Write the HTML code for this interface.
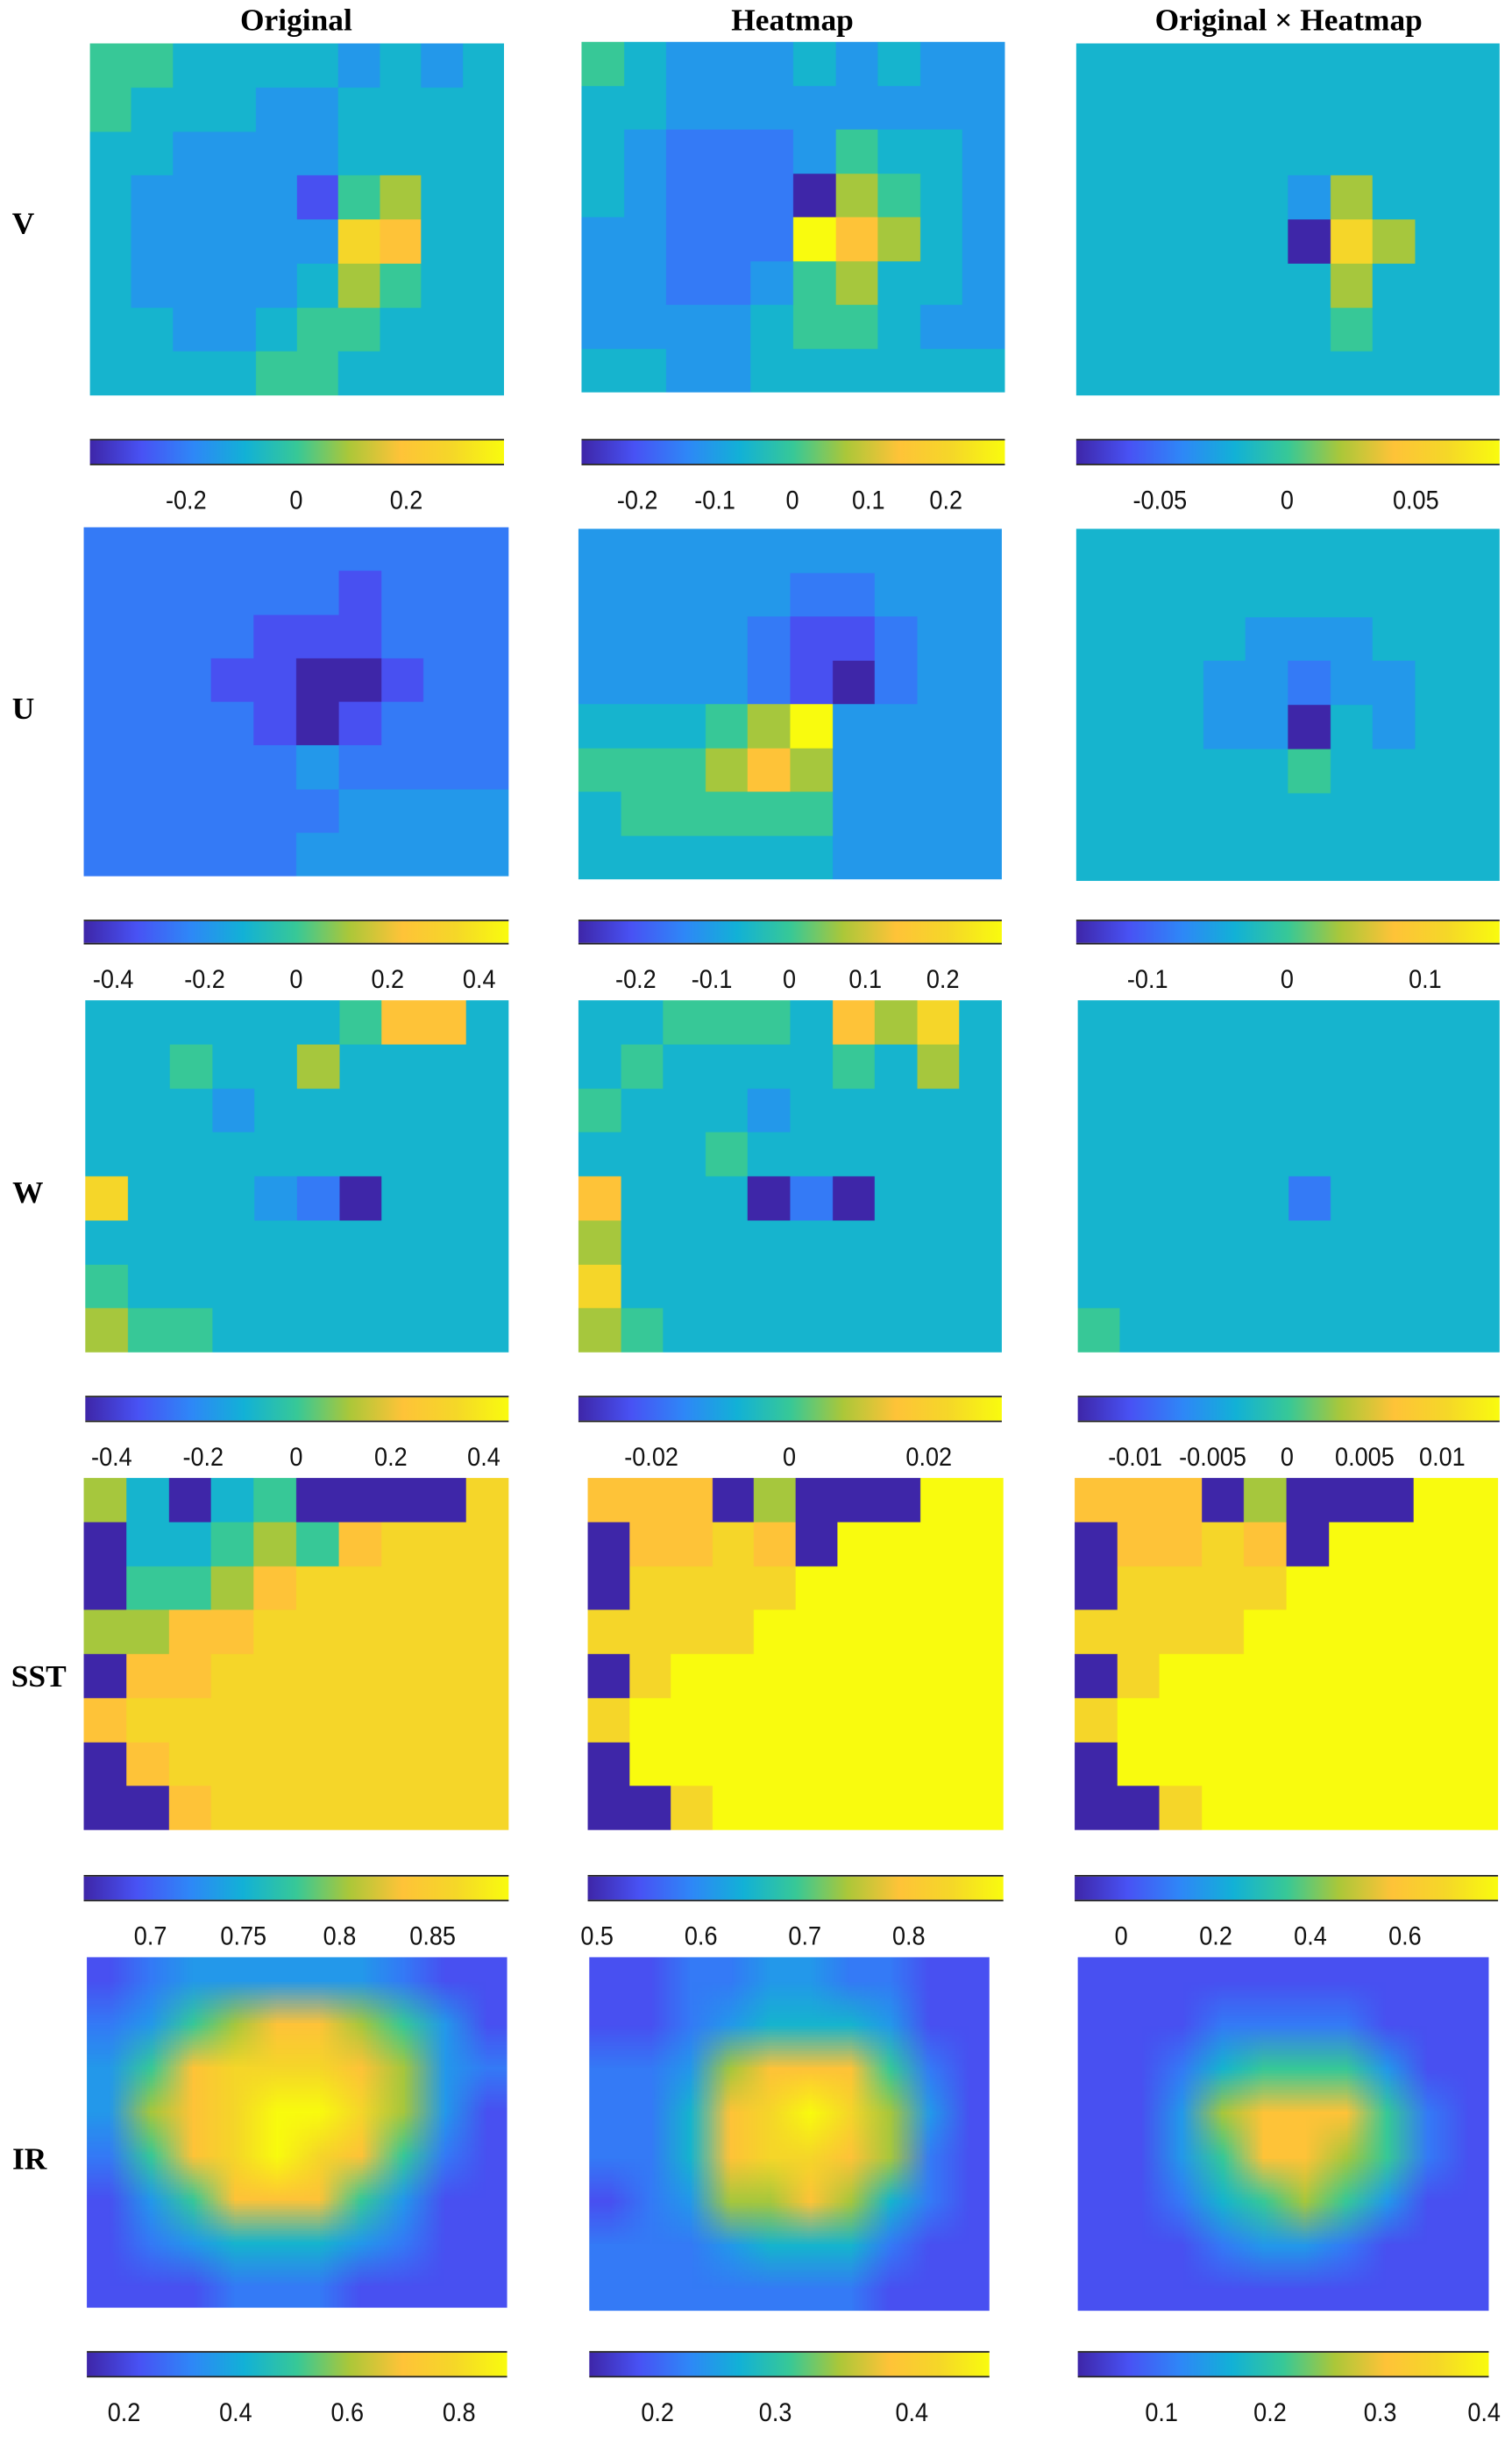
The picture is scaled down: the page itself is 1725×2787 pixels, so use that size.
<!DOCTYPE html>
<html><head><meta charset="utf-8">
<style>
html,body{margin:0;padding:0;background:#fff;width:1725px;height:2786px;overflow:hidden}
#root{position:absolute;left:0;top:0;width:975px;height:1575px;transform:scale(1.76923);transform-origin:0 0}
.t{position:absolute;font-family:"Liberation Serif",serif;font-weight:bold;font-size:20px;color:#000;white-space:nowrap;transform:translate(-50%,-50%)}
.tk{position:absolute;font-family:"Liberation Sans",sans-serif;font-size:17px;color:#111;white-space:nowrap;transform:translate(-50%,-50%) scaleX(0.9)}
canvas{position:absolute}
.cb{position:absolute;border-top:1.5px solid #222;border-bottom:1.5px solid #222;box-sizing:border-box;
background:linear-gradient(to right,#3e26a8 0%,#4852f4 12.5%,#2e87f7 25%,#12b1d6 37.5%,#37c897 50%,#abc739 62.5%,#fec338 75%,#f5d728 87.5%,#f9fb0e 100%)}
</style></head><body>
<div id="root">
<div class="t" style="left:191px;top:14px">Original</div>
<div class="t" style="left:511px;top:14px">Heatmap</div>
<div class="t" style="left:831px;top:14px">Original × Heatmap</div>
<div class="t" style="left:15px;top:145px">V</div>
<div class="t" style="left:15px;top:458px">U</div>
<div class="t" style="left:18px;top:770px">W</div>
<div class="t" style="left:25px;top:1082px">SST</div>
<div class="t" style="left:19px;top:1393px">IR</div>
</div>
<script>
// grids: rows of digits 0-9 (mapped through levels[] onto parula scale)
const levels=[0,0.12,0.22,0.3,0.39,0.5,0.62,0.75,0.87,1];
const vOrig=["5544443434","5444334444","4433334444","4333315644","4333338744","4333346544","4433455444","4444554444"];
const vHeat=["5433343433","4433333333","4322235443","4322206543","3322297643","3322356443","3333455433","4433444444"];
const vProd=["4444444444","4444444444","4444444444","4444436444","4444408644","4444446444","4444445444","4444444444"];
const uOrig=["2222222222","2222221222","2222111222","2221100122","2222101222","2222232222","2222223333","2222233333"];
const uHeat=["3333333333","3333322333","3333211233","3333210233","4445693333","5556763333","4555553333","4444443333"];
const uProd=["4444444444","4444444444","4444333444","4443323344","4443304344","4444454444","4444444444","4444444444"];
const wOrig=["4444445774","4454464444","4443444444","4444444444","8444320444","4444444444","5444444444","6554444444"];
const wHeat=["4455547684","4544445464","5444344444","4445444444","7444020444","6444444444","8444444444","6544444444"];
const wProd=["4444444444","4444444444","4444444444","4444444444","4444424444","4444444444","4444444444","5444444444"];
const sOrig=["6404500008","0445657888","0556788888","6677888888","0778888888","7888888888","0788888888","0078888888"];
const sHeat=["7770600099","0778709999","0888899999","8888999999","0899999999","8999999999","0999999999","0089999999"];
const sProd=["7770600099","0778709999","0888899999","8888999999","0899999999","8999999999","0999999999","0089999999"];
const iOrig=["1233333211","2356776531","3578887632","3678998631","2578987521","1357775311","1234443211","1112221111"];
const iHeat=["1122332211","1123444311","2236777521","2247898631","2247887621","1236676421","2223444211","2222222111"];
const iProd=["1111111111","1112222111","1124555311","1136777521","1135776521","1124565311","1112332111","1111111111"];
// tick labels per colorbar
const ticks=[
 [["-0.2","0","0.2"],["-0.2","-0.1","0","0.1","0.2"],["-0.05","0","0.05"]],
 [["-0.4","-0.2","0","0.2","0.4"],["-0.2","-0.1","0","0.1","0.2"],["-0.1","0","0.1"]],
 [["-0.4","-0.2","0","0.2","0.4"],["-0.02","0","0.02"],["-0.01","-0.005","0","0.005","0.01"]],
 [["0.7","0.75","0.8","0.85"],["0.5","0.6","0.7","0.8"],["0","0.2","0.4","0.6"]],
 [["0.2","0.4","0.6","0.8"],["0.2","0.3","0.4"],["0.1","0.2","0.3","0.4"]]
];
const tickX=[
 [[120,191,262],[411,461,511,560,610],[748,830,913]],
 [[73,132,191,250,309],[410,459,509,558,608],[740,830,919]],
 [[72,131,191,252,312],[420,509,599],[732,782,830,880,930]],
 [[97,157,219,279],[385,452,519,586],[723,784,845,906]],
 [[80,152,224,296],[424,500,588],[749,819,890,957]]
];
const grids=[[vOrig,vHeat,vProd],[uOrig,uHeat,uProd],[wOrig,wHeat,wProd],[sOrig,sHeat,sProd],[iOrig,iHeat,iProd]];
const rowNames=["v","u","w","sst","ir"],colNames=["original","heatmap","product"];
const panels=[
 [[58,28,267,227],[375,27,273,226],[694,28,273,227]],
 [[54,340,274,225],[373,341,273,226],[694,341,273,227]],
 [[55,645,273,227],[373,645,273,227],[695,645,272,227]],
 [[54,953,274,227],[379,953,268,227],[693,953,273,227]],
 [[56,1262,271,226],[380,1262,258,228],[695,1262,265,228]]
];
const cbars=[[283,300],[593,609],[900,917],[1209,1226],[1516,1533]];
const stops=[[62,38,168],[72,82,244],[46,135,247],[18,177,214],[55,200,151],[171,199,57],[254,195,56],[245,215,40],[249,251,14]];
function parula(v){v=Math.max(0,Math.min(1,v))*8;const i=Math.min(7,Math.floor(v)),f=v-i;const a=stops[i],b=stops[i+1];
 return [0,1,2].map(k=>Math.round(a[k]+(b[k]-a[k])*f));}
const root=document.getElementById('root');
for(let r=0;r<5;r++){for(let c=0;c<3;c++){
 const [x,y,w,h]=panels[r][c];const g=grids[r][c];const rows=g.length,cols=g[0].length;
 const cv=document.createElement('canvas');
 
 
 const S=2;cv.width=w*S;cv.height=h*S;cv.style.left=x+'px';cv.style.top=y+'px';cv.style.width=w+'px';cv.style.height=h+'px';
 const ctx=cv.getContext('2d');
 const sm=document.createElement('canvas');sm.width=cols;sm.height=rows;const sc=sm.getContext('2d');
 const img=sc.createImageData(cols,rows);
 for(let i=0;i<rows;i++)for(let j=0;j<cols;j++){const col=parula(levels[parseInt(g[i][j])]);const p=(i*cols+j)*4;img.data[p]=col[0];img.data[p+1]=col[1];img.data[p+2]=col[2];img.data[p+3]=255;}
 sc.putImageData(img,0,0);
 ctx.imageSmoothingEnabled=(r===4);
 ctx.drawImage(sm,0,0,cols,rows,0,0,w*S,h*S);
 root.appendChild(cv);
 const cb=document.createElement('div');cb.className='cb';
 
 
 const [y0,y1]=cbars[r];cb.style.left=x+'px';cb.style.top=y0+'px';cb.style.width=w+'px';cb.style.height=(y1-y0)+'px';
 root.appendChild(cb);
 ticks[r][c].forEach((t,k)=>{const d=document.createElement('div');d.className='tk';d.textContent=t;
  
  
  d.style.left=tickX[r][c][k]+'px';d.style.top=(y1+23)+'px';root.appendChild(d);});
}}
</script>
</body></html>
